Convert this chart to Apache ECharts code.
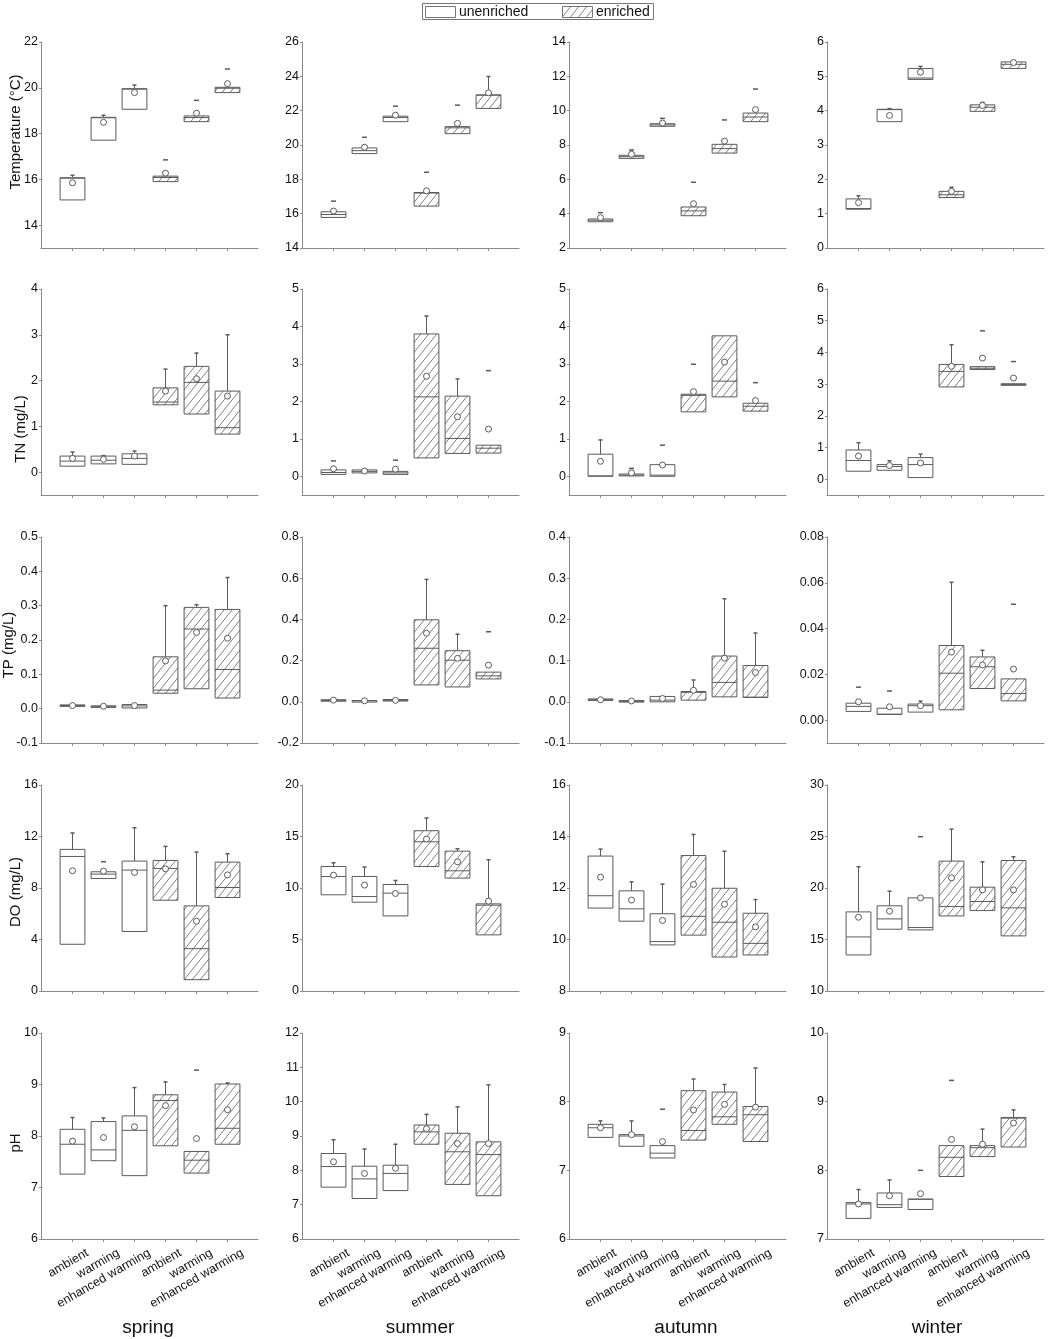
<!DOCTYPE html>
<html>
<head>
<meta charset="utf-8">
<title>Water parameters by season</title>
<script src="https://cdn.jsdelivr.net/npm/echarts@6/dist/echarts.min.js"></script>
<style>
html, body { margin: 0; padding: 0; background: #fff; }
#chart { width: 1057px; height: 1339px; }
</style>
</head>
<body>
<div id="chart"></div>
<script>
var seasons = ['spring', 'summer', 'autumn', 'winter'];
var treatments = ['ambient', 'warming', 'enhanced warming', 'ambient', 'warming', 'enhanced warming'];
var enriched = [0, 0, 0, 1, 1, 1];
var yNames = ['Temperature (°C)', 'TN (mg/L)', 'TP (mg/L)', 'DO (mg/L)', 'pH'];

// one box per row: [q1, median, q3, upper whisker, mean, max marker]
var temperature = [
  [[15.1, 16.05, 16.07, 16.18, 15.85, null], [17.71, 18.69, 18.71, 18.8, 18.49, null], [19.06, 19.94, 19.96, 20.12, 19.79, null],
   [15.9, 16.08, 16.14, null, 16.27, 16.85], [18.52, 18.7, 18.77, null, 18.89, 19.45], [19.79, 19.98, 20.02, null, 20.18, 20.82]],
  [[15.78, 15.95, 16.11, null, 16.15, 16.73], [19.5, 19.67, 19.83, null, 19.87, 20.45], [21.36, 21.6, 21.68, null, 21.74, 22.26],
   [16.44, 17.2, 17.23, null, 17.33, 18.41], [20.66, 21.0, 21.07, null, 21.26, 22.32], [22.13, 22.9, 22.92, 23.99, 23.04, null]],
  [[3.53, 3.62, 3.69, null, 3.77, 4.06], [7.22, 7.32, 7.4, null, 7.46, 7.71], [9.09, 9.17, 9.24, null, 9.28, 9.55],
   [3.88, 4.16, 4.39, null, 4.58, 5.83], [7.53, 7.79, 8.04, null, 8.23, 9.46], [9.36, 9.63, 9.86, null, 10.06, 11.26]],
  [[1.13, 1.15, 1.43, 1.52, 1.32, null], [3.68, 4.03, 4.04, 4.06, 3.86, null], [4.91, 4.95, 5.23, 5.29, 5.12, null],
   [1.47, 1.55, 1.65, 1.77, 1.65, null], [3.98, 4.1, 4.17, 4.24, 4.15, null], [5.23, 5.35, 5.42, 5.46, 5.4, null]]
];
var tn = [
  [[0.13, 0.24, 0.35, 0.44, 0.3, null], [0.18, 0.26, 0.35, 0.36, 0.28, null], [0.17, 0.3, 0.4, 0.46, 0.35, null],
   [1.47, 1.53, 1.84, 2.25, 1.77, null], [1.27, 1.96, 2.31, 2.6, 2.04, null], [0.83, 0.97, 1.77, 3.0, 1.66, null]],
  [[0.05, 0.1, 0.17, null, 0.2, 0.41], [0.09, 0.13, 0.17, null, 0.14, null], [0.05, 0.09, 0.13, null, 0.19, 0.43],
   [0.49, 2.12, 3.8, 4.28, 2.67, null], [0.61, 1.01, 2.14, 2.6, 1.59, null], [0.62, 0.75, 0.83, null, 1.26, 2.82]],
  [[0.0, 0.01, 0.59, 0.97, 0.4, null], [0.01, 0.03, 0.06, null, 0.09, 0.21], [0.0, 0.03, 0.31, null, 0.3, 0.83],
   [1.72, 2.16, 2.19, null, 2.26, 2.99], [2.12, 2.54, 3.75, null, 3.05, null], [1.74, 1.87, 1.95, null, 2.02, 2.5]],
  [[0.25, 0.59, 0.92, 1.15, 0.73, null], [0.28, 0.4, 0.46, 0.58, 0.43, null], [0.05, 0.46, 0.68, 0.79, 0.51, null],
   [2.91, 3.4, 3.62, 4.24, 3.56, null], [3.46, 3.5, 3.55, null, 3.82, 4.68], [2.96, 2.99, 3.01, null, 3.19, 3.71]]
];
var tp = [
  [[0.007, 0.009, 0.011, null, 0.009, null], [0.005, 0.007, 0.008, null, 0.007, null], [0.002, 0.008, 0.012, null, 0.009, null],
   [0.045, 0.054, 0.151, 0.3, 0.139, null], [0.058, 0.232, 0.295, 0.303, 0.222, null], [0.031, 0.114, 0.289, 0.382, 0.205, null]],
  [[0.004, 0.007, 0.01, null, 0.008, null], [0.003, 0.005, 0.006, null, 0.005, null], [0.004, 0.007, 0.011, null, 0.007, null],
   [0.082, 0.26, 0.398, 0.594, 0.333, null], [0.072, 0.202, 0.248, 0.328, 0.211, null], [0.111, 0.126, 0.144, null, 0.178, 0.34]],
  [[0.004, 0.005, 0.007, null, 0.005, null], [0.0, 0.001, 0.003, null, 0.002, null], [0.0, 0.004, 0.013, null, 0.008, null],
   [0.004, 0.023, 0.025, 0.053, 0.028, null], [0.012, 0.047, 0.111, 0.25, 0.106, null], [0.011, 0.011, 0.088, 0.167, 0.071, null]],
  [[0.0038, 0.006, 0.0074, null, 0.008, 0.0144], [0.0025, 0.0026, 0.0052, null, 0.0058, 0.0127], [0.0035, 0.0063, 0.007, 0.0083, 0.0063, null],
   [0.0045, 0.0205, 0.0326, 0.0602, 0.0297, null], [0.0138, 0.0233, 0.0276, 0.0305, 0.0241, null], [0.0084, 0.0116, 0.018, null, 0.0223, 0.0506]]
];
var dissolvedOxygen = [
  [[3.63, 10.45, 11.0, 12.27, 9.34, null], [8.74, 9.08, 9.26, null, 9.31, 10.04], [4.62, 9.39, 10.09, 12.68, 9.21, null],
   [7.05, 9.52, 10.14, 11.23, 9.49, null], [0.88, 3.29, 6.61, 10.79, 5.42, null], [7.26, 8.04, 10.01, 10.66, 9.02, null]],
  [[9.34, 11.12, 12.09, 12.45, 11.25, null], [8.62, 9.17, 11.12, 12.03, 10.28, null], [7.29, 9.5, 10.34, 10.73, 9.47, null],
   [12.09, 14.49, 15.56, 16.79, 14.75, null], [10.96, 11.67, 13.58, 13.81, 12.54, null], [5.45, 8.33, 8.46, 12.74, 8.72, null]],
  [[11.22, 11.7, 13.24, 13.51, 12.42, null], [10.71, 11.19, 11.89, 12.24, 11.53, null], [9.79, 9.92, 11.0, 12.15, 10.74, null],
   [10.17, 10.9, 13.26, 14.08, 12.14, null], [9.32, 10.67, 11.99, 13.43, 11.37, null], [9.4, 9.85, 11.02, 11.55, 10.49, null]],
  [[13.5, 15.25, 17.68, 22.06, 17.16, null], [16.0, 17.0, 18.27, 19.69, 17.75, null], [15.93, 16.16, 19.04, null, 19.04, 24.98],
   [17.29, 18.2, 22.61, 25.72, 20.99, null], [17.81, 18.69, 20.08, 22.54, 19.82, null], [15.35, 18.07, 22.67, 23.03, 19.82, null]]
];
var ph = [
  [[7.26, 7.84, 8.13, 8.36, 7.9, null], [7.52, 7.73, 8.28, 8.35, 7.97, null], [7.23, 8.11, 8.39, 8.94, 8.18, null],
   [7.81, 8.69, 8.8, 9.05, 8.59, null], [7.28, 7.53, 7.7, null, 7.95, 9.28], [7.84, 8.15, 9.01, 9.03, 8.51, null]],
  [[7.51, 8.11, 8.49, 8.89, 8.25, null], [7.18, 7.75, 8.12, 8.62, 7.91, null], [7.41, 7.91, 8.15, 8.76, 8.06, null],
   [8.76, 9.12, 9.32, 9.63, 9.21, null], [7.59, 8.54, 9.08, 9.85, 8.78, null], [7.26, 8.46, 8.83, 10.49, 8.78, null]],
  [[7.48, 7.62, 7.67, 7.72, 7.62, null], [7.35, 7.5, 7.52, 7.72, 7.52, null], [7.18, 7.25, 7.36, null, 7.42, 7.89],
   [7.44, 7.58, 8.16, 8.33, 7.88, null], [7.67, 7.78, 8.14, 8.25, 7.96, null], [7.42, 7.81, 7.93, 8.49, 7.92, null]],
  [[7.3, 7.51, 7.53, 7.72, 7.51, null], [7.46, 7.5, 7.67, 7.86, 7.63, null], [7.43, 7.58, 7.58, null, 7.66, 8.0],
   [7.91, 8.19, 8.36, null, 8.45, 9.31], [8.2, 8.33, 8.36, 8.6, 8.38, null], [8.34, 8.76, 8.77, 8.88, 8.69, null]]
];

// y axis extents and tick labels, per row then per season
var yRanges = [
  [[13, 22], [14, 26], [2, 14], [0, 6]],
  [[-0.5, 4], [-0.5, 5], [-0.5, 5], [-0.5, 6]],
  [[-0.1, 0.5], [-0.2, 0.8], [-0.1, 0.4], [-0.01, 0.08]],
  [[0, 16], [0, 20], [8, 16], [10, 30]],
  [[6, 10], [6, 12], [6, 9], [7, 10]]
];
var yTicks = [
  [[14, 16, 18, 20, 22], [14, 16, 18, 20, 22, 24, 26], [2, 4, 6, 8, 10, 12, 14], [0, 1, 2, 3, 4, 5, 6]],
  [[0, 1, 2, 3, 4], [0, 1, 2, 3, 4, 5], [0, 1, 2, 3, 4, 5], [0, 1, 2, 3, 4, 5, 6]],
  [[-0.1, 0, 0.1, 0.2, 0.3, 0.4, 0.5], [-0.2, 0, 0.2, 0.4, 0.6, 0.8], [-0.1, 0, 0.1, 0.2, 0.3, 0.4], [0, 0.02, 0.04, 0.06, 0.08]],
  [[0, 4, 8, 12, 16], [0, 5, 10, 15, 20], [8, 10, 12, 14, 16], [10, 15, 20, 25, 30]],
  [[6, 7, 8, 9, 10], [6, 7, 8, 9, 10, 11, 12], [6, 7, 8, 9], [7, 8, 9, 10]]
];
var yDecimals = [[0, 0, 0, 0], [0, 0, 0, 0], [1, 1, 1, 2], [0, 0, 0, 0], [0, 0, 0, 0]];
var variables = [temperature, tn, tp, dissolvedOxygen, ph];

var colLeft = [41, 302, 569, 827];
var rowTop = [42, 289, 537, 785, 1033];
var plotW = 217, plotH = 206;
var FONT = '"Liberation Sans", Arial, sans-serif';
var LINE = '#5a5a5a';
var AXIS = '#8a8a8a';

var hatch = document.createElement('canvas');
hatch.width = 8; hatch.height = 10;
var hg = hatch.getContext('2d');
hg.strokeStyle = '#707070';
hg.lineWidth = 0.9;
hg.beginPath();
hg.moveTo(0, 10); hg.lineTo(8, 0);
hg.moveTo(-2, 2.5); hg.lineTo(2, -2.5);
hg.moveTo(6, 12.5); hg.lineTo(10, 7.5);
hg.stroke();
var hatchFill = { image: hatch, repeat: 'repeat' };

function makeRender(boxes) {
  return function (params, api) {
    var b = boxes[params.dataIndex];
    var x = api.value(0);
    var half = api.size([0.8, 0])[0] / 2;
    var cx = Math.round(api.coord([x, 0])[0]) + 0.5;
    function py(v) { return api.coord([x, v])[1]; }
    var kids = [];
    if (b[3] != null) {
      kids.push({ type: 'line', shape: { x1: cx, y1: py(b[2]), x2: cx, y2: py(b[3]) }, style: { stroke: LINE, lineWidth: 1 } });
      kids.push({ type: 'line', shape: { x1: cx - 2, y1: py(b[3]), x2: cx + 2, y2: py(b[3]) }, style: { stroke: LINE, lineWidth: 1.5 } });
    }
    var top = py(b[2]), bot = py(b[0]);
    kids.push({
      type: 'rect',
      shape: { x: cx - half, y: top, width: half * 2, height: Math.max(bot - top, 1.5) },
      style: { fill: enriched[params.dataIndex] ? hatchFill : '#fff', stroke: LINE, lineWidth: 1 }
    });
    var my = py(b[1]);
    kids.push({ type: 'line', shape: { x1: cx - half, y1: my, x2: cx + half, y2: my }, style: { stroke: LINE, lineWidth: 1 } });
    kids.push({ type: 'circle', shape: { cx: cx, cy: py(b[4]), r: 3 }, style: { fill: '#fff', stroke: LINE, lineWidth: 1 } });
    if (b[5] != null) {
      kids.push({ type: 'line', shape: { x1: cx - 2.5, y1: py(b[5]), x2: cx + 2.5, y2: py(b[5]) }, style: { stroke: LINE, lineWidth: 1.5 } });
    }
    return { type: 'group', children: kids };
  };
}

var grids = [], xAxes = [], yAxes = [], series = [];
variables.forEach(function (v, r) {
  seasons.forEach(function (s, c) {
    var k = r * 4 + c;
    var boxes = v[c];
    grids.push({ left: colLeft[c], top: rowTop[r], width: plotW, height: plotH });
    xAxes.push({
      type: 'value', gridIndex: k, min: 0, max: 7,
      axisLine: { onZero: false, lineStyle: { color: AXIS, width: 1 } },
      axisTick: { customValues: [1, 2, 3, 4, 5, 6], length: 3, lineStyle: { color: AXIS } },
      axisLabel: r === 4 ? {
        customValues: [1.5, 2.5, 3.5, 4.5, 5.5, 6.5],
        formatter: function (val) { return treatments[Math.round(val - 0.5) - 1]; },
        rotate: 30, margin: 13, fontSize: 12.5, color: '#111', fontFamily: FONT
      } : { show: false },
      splitLine: { show: false }
    });
    var dec = yDecimals[r][c];
    yAxes.push({
      type: 'value', gridIndex: k, min: yRanges[r][c][0], max: yRanges[r][c][1],
      axisLine: { show: true, onZero: false, lineStyle: { color: AXIS, width: 1 } },
      axisTick: { show: true, customValues: yTicks[r][c], length: 2, lineStyle: { color: AXIS } },
      axisLabel: {
        customValues: yTicks[r][c],
        formatter: function (val) { return val.toFixed(dec); },
        fontSize: 12.5, color: '#111', fontFamily: FONT, margin: 3
      },
      splitLine: { show: false }
    });
    series.push({
      type: 'custom', xAxisIndex: k, yAxisIndex: k,
      data: boxes.map(function (b, i) { return [i + 1, b[0], b[2]]; }),
      renderItem: makeRender(boxes),
      animation: false
    });
  });
});

var yNameX = [16, 21, 9, 16, 16];
var yNameY = [132, 429, 645, 892, 1143];
var seasonX = [148, 420, 686, 937];

var graphics = [
  { type: 'rect', shape: { x: 422.5, y: 3.5, width: 231, height: 16 }, style: { fill: '#fff', stroke: '#777', lineWidth: 1 } },
  { type: 'rect', shape: { x: 425.5, y: 6.5, width: 30, height: 11 }, style: { fill: '#fff', stroke: '#777', lineWidth: 1 } },
  { type: 'text', x: 459, y: 12, style: { text: 'unenriched', fontSize: 14, fontFamily: FONT, fill: '#111', align: 'left', verticalAlign: 'middle' } },
  { type: 'rect', shape: { x: 562.5, y: 6.5, width: 30, height: 11 }, style: { fill: hatchFill, stroke: '#777', lineWidth: 1 } },
  { type: 'text', x: 596, y: 12, style: { text: 'enriched', fontSize: 14, fontFamily: FONT, fill: '#111', align: 'left', verticalAlign: 'middle' } }
];
yNames.forEach(function (n, r) {
  graphics.push({ type: 'text', x: yNameX[r], y: yNameY[r], rotation: Math.PI / 2,
    style: { text: n, fontSize: 15, fontFamily: FONT, fill: '#111', align: 'center', verticalAlign: 'middle' } });
});
seasons.forEach(function (s, c) {
  graphics.push({ type: 'text', x: seasonX[c], y: 1328,
    style: { text: s, fontSize: 19, fontFamily: FONT, fill: '#111', align: 'center', verticalAlign: 'middle' } });
});

var chart = echarts.init(document.getElementById('chart'));
chart.setOption({
  animation: false,
  backgroundColor: '#fff',
  grid: grids,
  xAxis: xAxes,
  yAxis: yAxes,
  series: series,
  graphic: graphics
});
</script>
</body>
</html>
